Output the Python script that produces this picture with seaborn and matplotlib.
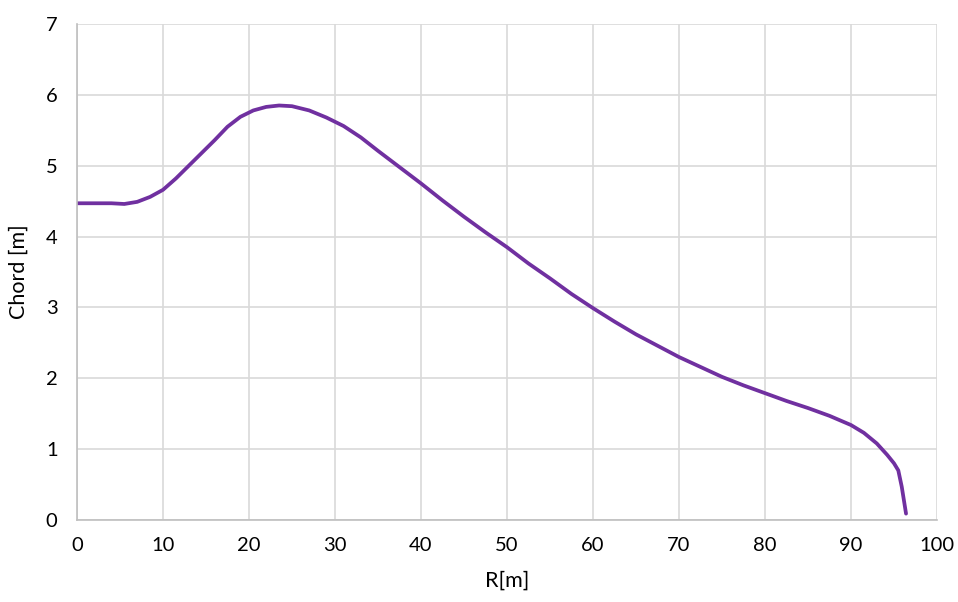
import matplotlib
matplotlib.use("Agg")
import matplotlib.pyplot as plt
import seaborn as sns
import pandas as pd

# Radius positions [m] and chord lengths [m]
radius = [0, 2, 4, 5.5, 7, 8.5, 10, 11.5, 13, 14.5, 16, 17.5, 19, 20.5, 22, 23.5,
          25, 27, 29, 31, 33, 35, 37.5, 40, 42.5, 45, 47.5, 50, 52.5, 55, 57.5, 60,
          62.5, 65, 67.5, 70, 72.5, 75, 77.5, 80, 82.5, 85, 87.5, 90, 91.5, 93,
          94.2, 95.0, 95.5, 95.9, 96.4]
chord = [4.47, 4.47, 4.47, 4.46, 4.49, 4.56, 4.66, 4.82, 5.00, 5.18, 5.36, 5.55,
         5.69, 5.78, 5.83, 5.85, 5.84, 5.78, 5.68, 5.56, 5.40, 5.21, 4.98, 4.75,
         4.51, 4.28, 4.06, 3.85, 3.62, 3.41, 3.19, 2.99, 2.80, 2.62, 2.46, 2.30,
         2.16, 2.02, 1.90, 1.79, 1.68, 1.58, 1.47, 1.34, 1.23, 1.08, 0.92, 0.80,
         0.70, 0.47, 0.09]

x_ticks = [0, 10, 20, 30, 40, 50, 60, 70, 80, 90, 100]
y_ticks = [0, 1, 2, 3, 4, 5, 6, 7]

df = pd.DataFrame({"R": radius, "Chord": chord})

sns.set_theme(style="white")
plt.rcParams["font.family"] = ["Lato", "DejaVu Sans"]

fig = plt.figure(figsize=(9.58, 6.02), dpi=100)
ax = fig.add_axes([77 / 958, 1 - 520 / 602, (937 - 77) / 958, (520 - 24) / 602])

sns.lineplot(data=df, x="R", y="Chord", ax=ax, color="#7030A0", linewidth=2.7,
             sort=False, estimator=None)

ax.set_xlim(0, 100)
ax.set_ylim(0, 7)
ax.set_xticks(x_ticks)
ax.set_yticks(y_ticks)
ax.grid(True, color="#d9d9d9", linewidth=1.2)
ax.set_axisbelow(True)
for s in ["top", "right"]:
    ax.spines[s].set_visible(False)
for s in ["left", "bottom"]:
    ax.spines[s].set_color("#bfbfbf")
    ax.spines[s].set_linewidth(1.2)
ax.tick_params(axis="both", labelsize=14.5, colors="#000000", length=0)
ax.tick_params(axis="x", pad=12)
ax.tick_params(axis="y", pad=14)
ax.set_xlabel("R[m]", fontsize=15.5, labelpad=12, color="#000000")
ax.set_ylabel("Chord [m]", fontsize=15.5, labelpad=12, color="#000000")

fig.savefig("out.png", dpi=100)
